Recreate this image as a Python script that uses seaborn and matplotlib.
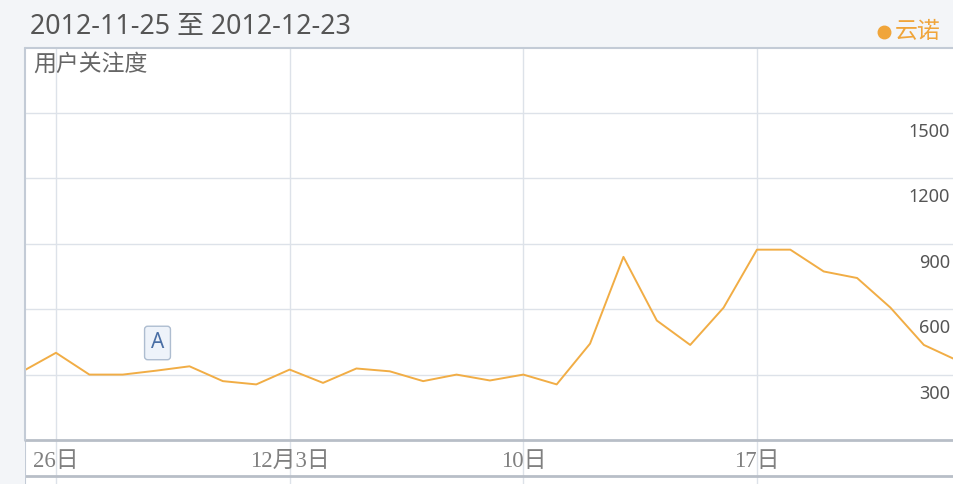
import matplotlib
matplotlib.use("Agg")
import matplotlib.pyplot as plt
import matplotlib.transforms as mtrans
import seaborn as sns
import pandas as pd

sns.set_theme(style="white")
plt.rcParams['font.family'] = ['Noto Sans', 'Noto Sans CJK SC', 'DejaVu Sans']

# ---- data ----
dates = ["11-25", "11-26", "11-27", "11-28", "11-29", "11-30", "12-01",
         "12-02", "12-03", "12-04", "12-05", "12-06", "12-07", "12-08",
         "12-09", "12-10", "12-11", "12-12", "12-13", "12-14", "12-15",
         "12-16", "12-17", "12-18", "12-19", "12-20", "12-21", "12-22", "12-23"]
values = [315, 400, 300, 300, 318, 338, 270, 255, 323, 262, 328, 315, 270, 300,
          273, 300, 255, 442, 840, 548, 436, 607, 873, 873, 773, 743, 607, 436, 365]
day_index = list(range(len(dates)))
xtick_pos = [1, 8, 15, 22]
xtick_labels = ["26日", "12月3日", "10日", "17日"]
ytick_vals = [300, 600, 900, 1200, 1500]
ytick_labels = ["300", "600", "900", "1200", "1500"]
title = "2012-11-25 至 2012-12-23"
series_name = "云诺"
y_title = "用户关注度"
marker_label = "A"
marker_idx = 4

df = pd.DataFrame({"day": day_index, "value": values})

W, H = 954, 484
fig = plt.figure(figsize=(W / 100, H / 100), dpi=100)
fig.patch.set_facecolor("#f3f5f8")

def box(x0, y0, x1, y1):
    return [x0 / W, 1 - y1 / H, (x1 - x0) / W, (y1 - y0) / H]

x0p = 22.6
dx = 33.38
xl = ((25 - x0p) / dx, (954 - x0p) / dx)

# label band axes (below the plot)
band = fig.add_axes(box(25, 440, 954, 484))
band.set_facecolor("white")
band.set_xlim(*xl)
band.set_ylim(484, 440)
band.set_xticks(xtick_pos)
band.set_yticks([])
band.tick_params(axis="x", length=0, labelbottom=False)
band.grid(axis="x", color="#dde2e9", lw=1)
for s in band.spines.values():
    s.set_visible(False)
band.axhline(476, color="#b8bec7", lw=2)
band.axvline(xl[0], color="#c3cbd6", lw=1.5)

ax = fig.add_axes(box(25, 48, 954, 440))
ax.set_facecolor("white")
sns.lineplot(data=df, x="day", y="value", ax=ax, color="#f1ad45", lw=1.4)
ax.set_xlim(*xl)
ax.set_ylim(0, 1798)
ax.set_xlabel("")
ax.set_ylabel("")
ax.set_xticks(xtick_pos)
ax.set_xticklabels(xtick_labels)
ax.set_yticks(ytick_vals)
ax.set_yticklabels(ytick_labels)
ax.grid(True, color="#dde2e9", lw=1)
ax.tick_params(axis="both", length=0)
ax.tick_params(axis="x", pad=8, labelsize=16.5, labelcolor="#808080")
for lab in ax.get_xticklabels():
    lab.set_family(["Liberation Serif", "Noto Sans CJK SC"])
ax.yaxis.tick_right()
ax.tick_params(axis="y", pad=-3, labelsize=13, labelcolor="#555555")
off = mtrans.ScaledTranslation(0, -17 / 100, fig.dpi_scale_trans)
for lab in ax.get_yticklabels():
    lab.set_horizontalalignment("right")
    lab.set_transform(lab.get_transform() + off)
for name, s in ax.spines.items():
    s.set_visible(False)
ax.axhline(0, color="#b8bec7", lw=2, clip_on=False)
ax.axhline(1798, color="#c3cbd6", lw=1.5, clip_on=False)
ax.axvline(xl[0], color="#c3cbd6", lw=1.5, clip_on=False)

ax.text(8 / 929, 1 - 16 / 392, y_title, transform=ax.transAxes,
        fontsize=16.5, color="#666666", va="center", ha="left",
        family=["Noto Sans CJK SC", "DejaVu Sans"])

# event marker "A"
ax.annotate(marker_label, xy=(marker_idx, 445), xytext=(1, 0), textcoords="offset points",
            ha="center", va="center", fontsize=15, color="#4a6fa5",
            bbox=dict(boxstyle="round,pad=0.3,rounding_size=0.15", fc="#eef3fa",
                      ec="#aebdd0", lw=1))

# header
fig.text(30 / W, 1 - 27 / H, title, fontsize=19.3, color="#555555",
         va="center", ha="left", family=["Noto Sans", "Noto Sans CJK SC"])
fig.text(895 / W, 1 - 31 / H, series_name, fontsize=16.5, color="#f0a53a",
         va="center", ha="left", family=["Noto Sans CJK SC", "DejaVu Sans"])
fig.add_artist(plt.Line2D([884 / W], [1 - 32 / H], marker="o", markersize=9,
                          color="#f0a53a", transform=fig.transFigure))

fig.savefig("out.png", dpi=100, facecolor=fig.get_facecolor())
